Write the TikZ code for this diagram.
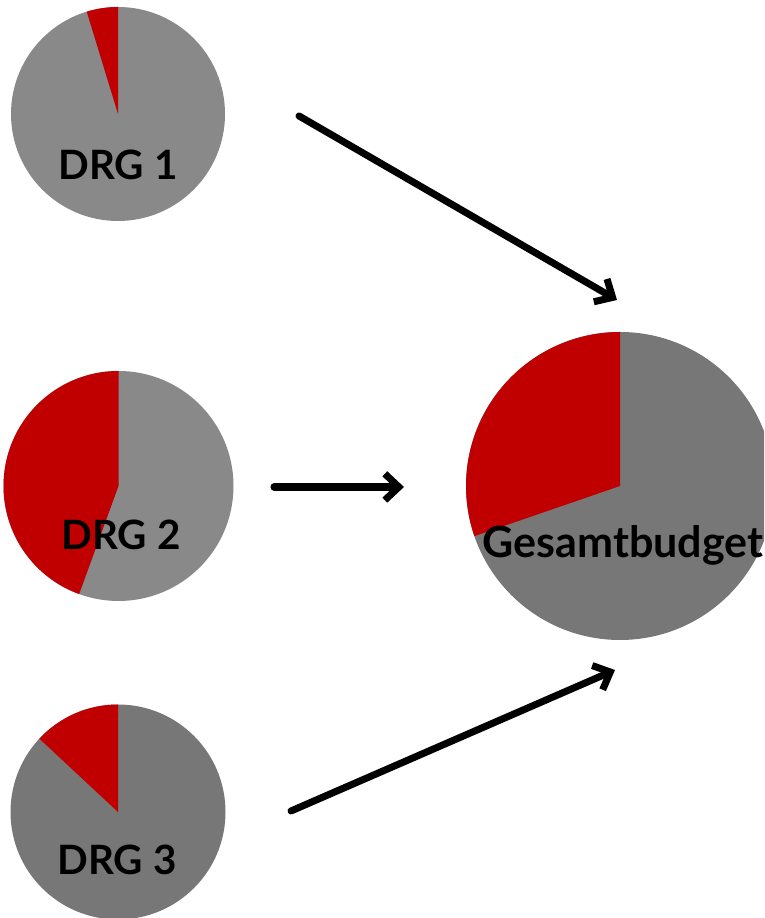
\documentclass[tikz,border=0pt]{standalone}
\usepackage{fontspec}
\setmainfont{Lato}
\usetikzlibrary{arrows.meta}
\definecolor{pielight}{HTML}{898989}
\definecolor{piedark}{HTML}{777777}
\definecolor{piered}{HTML}{C00000}
\tikzset{
  lbl/.style={font=\bfseries\fontsize{23}{23}\selectfont, text=black},
  budget/.style={-{Straight Barb[length=8pt,width=15pt]}, line width=4pt, line cap=round, line join=round}
}

\begin{document}
\begin{tikzpicture}[x=0.02cm, y=0.02cm]
          \useasboundingbox (0,0) rectangle (764,918);
          \clip (0,0) rectangle (764,918);
          \fill[white] (0,0) rectangle (764,918);
          % pies
          \fill[pielight] (118,804) circle (107);
          \fill[piered] (118,804) -- ++(90:107) arc (90:107:107) -- cycle;
          \fill[pielight] (118.5,432) circle (115);
          \fill[piered] (118.5,432) -- ++(90:115) arc (90:250:115) -- cycle;
          \fill[piedark] (118,106) circle (107.5);
          \fill[piered] (118,106) -- ++(90:107.5) arc (90:137:107.5) -- cycle;
          \fill[piedark] (620,432) circle (154);
          \fill[piered] (620,432) -- ++(90:154) arc (90:199:154) -- cycle;
          %
          \node[lbl] (drg1) at (118, 753) {DRG 1};
          \node[lbl] (drg2) at (121, 383) {DRG 2};
          \node[lbl] (drg3) at (117, 58) {DRG 3};
          \node[lbl, font=\bfseries\fontsize{24.5}{24.5}\selectfont] (gesamt) at (623, 373) {Gesamtbudget};
          %
          \coordinate (from1) at (299, 802);
          \coordinate (to1) at (617, 618);
          \coordinate (from2) at (274, 431);
          \coordinate (to2) at (404, 431);
          \coordinate (from3) at (291, 107);
          \coordinate (to3) at (615, 248);
          \draw[budget] (from1) -- (to1);
          \draw[budget] (from2) -- (to2);
          \draw[budget] (from3) -- (to3);
        \end{tikzpicture}
\end{document}
